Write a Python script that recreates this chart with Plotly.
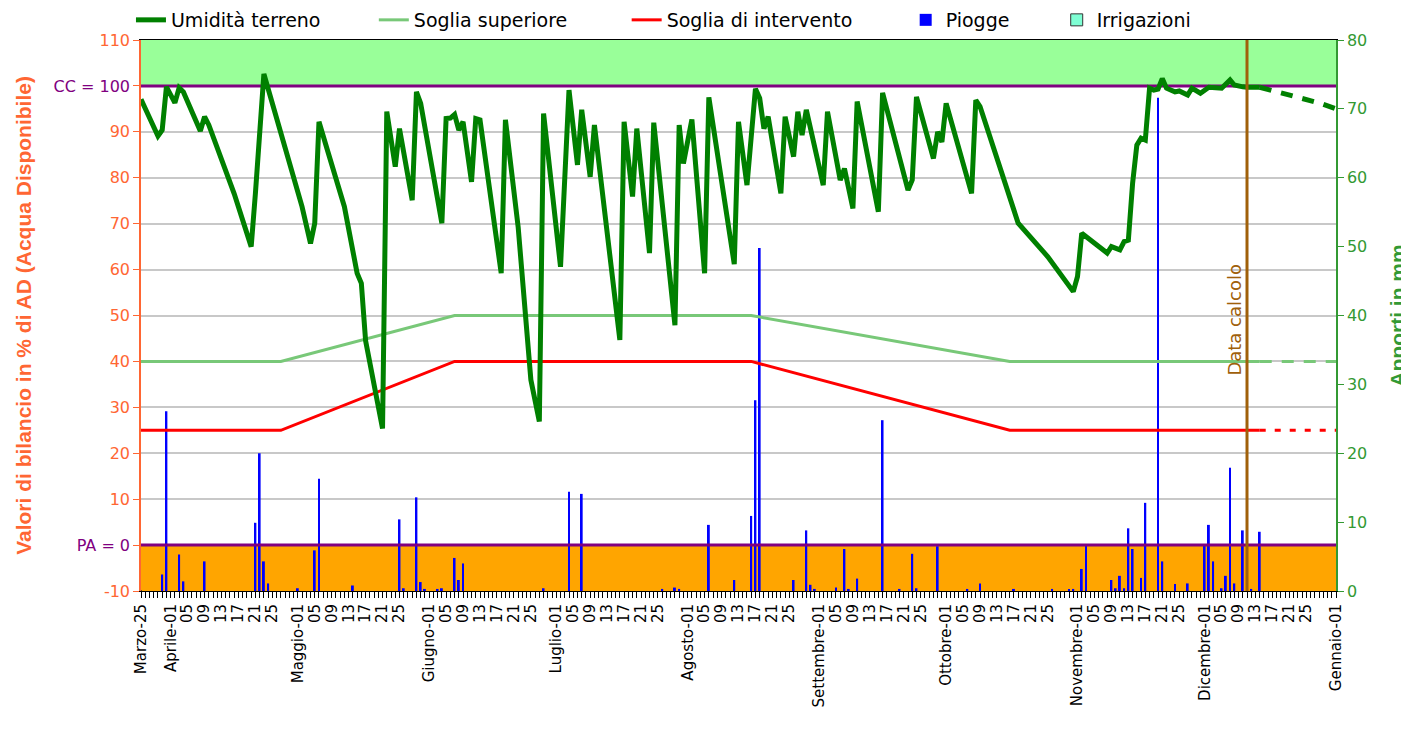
import plotly.graph_objects as go

# ---------------- DATA ----------------
start_date = "2025-03-25"
end_date = "2026-01-01"
calc_date = "2025-12-11"

# Umidità terreno (% AD) - observed part
umid_dates = [
    "2025-03-25", "2025-03-29", "2025-03-30", "2025-03-31", "2025-04-02", "2025-04-03", "2025-04-04",
    "2025-04-08", "2025-04-09", "2025-04-10", "2025-04-16", "2025-04-20", "2025-04-21", "2025-04-23",
    "2025-05-02", "2025-05-04", "2025-05-05", "2025-05-06", "2025-05-08", "2025-05-12", "2025-05-15",
    "2025-05-16", "2025-05-17", "2025-05-21", "2025-05-22", "2025-05-24", "2025-05-25", "2025-05-28",
    "2025-05-29", "2025-05-30", "2025-06-04", "2025-06-05", "2025-06-06", "2025-06-07", "2025-06-08",
    "2025-06-09", "2025-06-11", "2025-06-12", "2025-06-13", "2025-06-18", "2025-06-19", "2025-06-22",
    "2025-06-25", "2025-06-27", "2025-06-28", "2025-07-02", "2025-07-04", "2025-07-06", "2025-07-07",
    "2025-07-09", "2025-07-10", "2025-07-16", "2025-07-17", "2025-07-19", "2025-07-20", "2025-07-23",
    "2025-07-24", "2025-07-29", "2025-07-30", "2025-07-31", "2025-08-02", "2025-08-05", "2025-08-06",
    "2025-08-12", "2025-08-13", "2025-08-15", "2025-08-17", "2025-08-18", "2025-08-19", "2025-08-20",
    "2025-08-23", "2025-08-24", "2025-08-26", "2025-08-27", "2025-08-28", "2025-08-29", "2025-09-02",
    "2025-09-03", "2025-09-06", "2025-09-07", "2025-09-09", "2025-09-10", "2025-09-15", "2025-09-16",
    "2025-09-22", "2025-09-23", "2025-09-24", "2025-09-28", "2025-09-29", "2025-09-30", "2025-10-01",
    "2025-10-07", "2025-10-08", "2025-10-09", "2025-10-18", "2025-10-25", "2025-10-31", "2025-11-01",
    "2025-11-02", "2025-11-08", "2025-11-09", "2025-11-11", "2025-11-12", "2025-11-13", "2025-11-14",
    "2025-11-15", "2025-11-16", "2025-11-17", "2025-11-18", "2025-11-19", "2025-11-20", "2025-11-21",
    "2025-11-22", "2025-11-24", "2025-11-25", "2025-11-27", "2025-11-28", "2025-11-30", "2025-12-02",
    "2025-12-05", "2025-12-07", "2025-12-08", "2025-12-10", "2025-12-11", "2025-12-14",
]
umid_values = [
    97.1, 89.1, 90.4, 99.8, 96.3, 99.6, 98.7,
    90.2, 93.3, 91.5, 76.5, 65.0, 76.6, 102.6,
    73.7, 65.7, 70.1, 92.2, 86.0, 73.7, 59.2,
    57.0, 44.5, 25.4, 94.4, 82.4, 90.7, 75.1,
    98.7, 96.2, 70.1, 92.9, 93.0, 93.8, 90.4,
    92.2, 79.1, 92.9, 92.6, 59.2, 92.6, 69.3,
    36.0, 26.9, 94.0, 60.6, 99.1, 82.8, 94.8,
    80.2, 91.5, 44.7, 92.2, 75.9, 90.7, 63.6,
    92.0, 47.9, 91.5, 83.1, 92.7, 59.2, 97.5,
    61.2, 92.2, 78.4, 99.4, 97.3, 90.7, 93.3,
    76.6, 93.3, 84.6, 94.4, 89.3, 94.8, 78.4,
    94.4, 79.5, 82.0, 73.3, 96.6, 72.6, 98.5,
    77.3, 79.5, 97.6, 84.2, 90.0, 87.8, 96.2,
    76.6, 96.9, 95.5, 70.1, 62.8, 55.2, 58.5,
    67.9, 63.6, 65.0, 64.3, 66.1, 66.4, 78.8,
    87.1, 88.6, 88.2, 99.5, 99.1, 99.3, 101.6,
    99.5, 98.7, 98.9, 98.0, 99.5, 98.4, 99.7,
    99.5, 101.3, 100.2, 99.8, 99.7, 99.7,
]

# Umidità terreno - forecast part (dashed)
umid_fc_dates = ["2025-12-14", "2025-12-16", "2025-12-22", "2025-12-28", "2026-01-01"]
umid_fc_values = [99.7, 99.2, 97.6, 96.3, 95.0]

# Soglie (% AD)
soglia_dates = ["2025-03-25", "2025-04-27", "2025-06-07", "2025-08-16", "2025-10-16", "2025-12-14"]
soglia_sup_values = [40, 40, 50, 50, 40, 40]
soglia_int_values = [25, 25, 40, 40, 25, 25]
soglia_fc_dates = ["2025-12-14", "2026-01-01"]
soglia_sup_fc_values = [40, 40]
soglia_int_fc_values = [25, 25]

# Piogge (mm)
piogge_dates = [
    "2025-03-30", "2025-03-31", "2025-04-03", "2025-04-04", "2025-04-09", "2025-04-21", "2025-04-22",
    "2025-04-23", "2025-04-24", "2025-05-01", "2025-05-05", "2025-05-06", "2025-05-14", "2025-05-25",
    "2025-05-26", "2025-05-29", "2025-05-30", "2025-05-31", "2025-06-03", "2025-06-04", "2025-06-07",
    "2025-06-08", "2025-06-09", "2025-06-28", "2025-07-04", "2025-07-07", "2025-07-26", "2025-07-29",
    "2025-07-30", "2025-08-06", "2025-08-12", "2025-08-16", "2025-08-17", "2025-08-18", "2025-08-26",
    "2025-08-29", "2025-08-30", "2025-08-31", "2025-09-05", "2025-09-07", "2025-09-08", "2025-09-10",
    "2025-09-16", "2025-09-20", "2025-09-23", "2025-09-24", "2025-09-29", "2025-10-06", "2025-10-09",
    "2025-10-17", "2025-10-26", "2025-10-30", "2025-10-31", "2025-11-02", "2025-11-03", "2025-11-09",
    "2025-11-10", "2025-11-11", "2025-11-12", "2025-11-13", "2025-11-14", "2025-11-16", "2025-11-17",
    "2025-11-20", "2025-11-21", "2025-11-24", "2025-11-27", "2025-12-01", "2025-12-02", "2025-12-03",
    "2025-12-05", "2025-12-06", "2025-12-07", "2025-12-08", "2025-12-10", "2025-12-12", "2025-12-14",
]
piogge_mm = [
    2.4, 26.1, 5.3, 1.4, 4.3, 9.9, 20.0,
    4.3, 1.1, 0.4, 5.9, 16.3, 0.8, 10.4,
    0.4, 13.6, 1.3, 0.3, 0.3, 0.4, 4.8,
    1.6, 4.0, 0.4, 14.4, 14.1, 0.3, 0.5,
    0.3, 9.6, 1.6, 10.9, 27.7, 49.8, 1.6,
    8.8, 0.9, 0.3, 0.5, 6.1, 0.3, 1.8,
    24.8, 0.3, 5.4, 0.4, 6.5, 0.3, 1.1,
    0.3, 0.3, 0.3, 0.3, 3.2, 6.6, 1.6,
    0.4, 2.2, 0.4, 9.1, 6.1, 1.9, 12.8,
    71.6, 4.3, 1.0, 1.1, 6.6, 9.6, 4.3,
    0.4, 2.2, 17.9, 1.1, 8.8, 0.3, 8.6,
]

# Irrigazioni (mm) - no irrigation in the period
irrigazioni_dates = ["2025-03-25"]
irrigazioni_mm = [0]

# Axis labels
month_names = ["Aprile", "Maggio", "Giugno", "Luglio", "Agosto", "Settembre",
               "Ottobre", "Novembre", "Dicembre"]
label_days = ["05", "09", "13", "17", "21", "25"]
first_label = "Marzo-25"
last_label = "Gennaio-01"
left_tick_values = [-10, 0, 10, 20, 30, 40, 50, 60, 70, 80, 90, 100, 110]
left_tick_text = ["-10", "<span style='color:#800080'>PA = 0</span>", "10", "20", "30", "40",
                  "50", "60", "70", "80", "90", "<span style='color:#800080'>CC = 100</span>", "110"]
right_tick_values = [0, 10, 20, 30, 40, 50, 60, 70, 80]

# ---------------- BUILD ----------------
tickvals = [start_date]
ticktext = [first_label]
for i, m in enumerate(month_names):
    month_num = 4 + i
    tickvals.append(f"2025-{month_num:02d}-01")
    ticktext.append(f"{m}-01")
    for d in label_days:
        tickvals.append(f"2025-{month_num:02d}-{d}")
        ticktext.append(d)
tickvals.append(end_date)
ticktext.append(last_label)

ORANGE = "#ff6633"
RGREEN = "#339933"
PURPLE = "#800080"
BROWN = "#a0600a"
DAY_MS = 86400000
NB = "\u00a0"

fig = go.Figure()

# Rain bars on the mm axis (primary y, drawn on the right)
fig.add_trace(go.Bar(
    x=piogge_dates, y=piogge_mm, yaxis="y", name="Piogge" + NB * 7,
    marker=dict(color="#0000ff", line=dict(width=0)),
    width=0.45 * DAY_MS, legendrank=4,
))
fig.add_trace(go.Bar(
    x=irrigazioni_dates, y=irrigazioni_mm, yaxis="y", name="Irrigazioni",
    marker=dict(color="#7fffd4", line=dict(color="#333333", width=1)),
    width=0.45 * DAY_MS, legendrank=5,
))

# Reference lines CC and PA
for lvl in [0, 100]:
    fig.add_trace(go.Scatter(
        x=[start_date, end_date], y=[lvl, lvl], yaxis="y2", mode="lines",
        line=dict(color=PURPLE, width=3), showlegend=False, hoverinfo="skip",
    ))

# Forecast (dashed) parts
fig.add_trace(go.Scatter(
    x=soglia_fc_dates, y=soglia_sup_fc_values, yaxis="y2", mode="lines",
    line=dict(color="#78c878", width=3, dash="12px,10px"), showlegend=False, hoverinfo="skip",
))
fig.add_trace(go.Scatter(
    x=soglia_fc_dates, y=soglia_int_fc_values, yaxis="y2", mode="lines",
    line=dict(color="#ff0000", width=3, dash="6px,9px"), showlegend=False, hoverinfo="skip",
))
fig.add_trace(go.Scatter(
    x=umid_fc_dates, y=umid_fc_values, yaxis="y2", mode="lines",
    line=dict(color="#008000", width=5, dash="12px,10px"), showlegend=False, hoverinfo="skip",
))
fig.add_trace(go.Scatter(
    x=soglia_dates, y=soglia_sup_values, yaxis="y2", mode="lines",
    name="Soglia superiore" + NB * 9,
    line=dict(color="#78c878", width=3), legendrank=2,
))
fig.add_trace(go.Scatter(
    x=soglia_dates, y=soglia_int_values, yaxis="y2", mode="lines",
    name="Soglia di intervento" + NB * 8,
    line=dict(color="#ff0000", width=3), legendrank=3,
))
fig.add_trace(go.Scatter(
    x=umid_dates, y=umid_values, yaxis="y2", mode="lines",
    name="Umidità terreno" + NB * 8,
    line=dict(color="#008000", width=5), legendrank=1,
))

# Bands
fig.add_shape(type="rect", xref="paper", x0=0, x1=1, yref="y2", y0=100, y1=110,
              fillcolor="#99ff99", line=dict(width=0), layer="between")
fig.add_shape(type="rect", xref="paper", x0=0, x1=1, yref="y2", y0=-10, y1=0,
              fillcolor="#ffa500", line=dict(width=0), layer="between")
# Data calcolo
fig.add_shape(type="line", xref="x", x0=calc_date, x1=calc_date, yref="paper", y0=0, y1=1,
              line=dict(color=BROWN, width=3), layer="above")
fig.add_annotation(x=calc_date, xref="x", y=49, yref="y2", text="Data calcolo",
                   textangle=-90, showarrow=False, xanchor="right", xshift=0,
                   font=dict(family="DejaVu Sans", size=18, color=BROWN))

fig.update_layout(
    width=1409, height=732,
    margin=dict(l=133, r=81, t=32, b=149, pad=0, autoexpand=False),
    plot_bgcolor="white", paper_bgcolor="white",
    barmode="overlay",
    legend=dict(orientation="h", x=-0.0084, xanchor="left",
                y=1.0363, yanchor="middle", yref="paper",
                font=dict(family="DejaVu Sans", size=19, color="black"),
                bgcolor="rgba(0,0,0,0)", traceorder="normal"),
    xaxis=dict(
        type="date", range=[start_date, end_date],
        tickmode="array", tickvals=tickvals, ticktext=ticktext, tickangle=-90,
        tickfont=dict(family="DejaVu Sans", size=15, color="black"),
        ticks="outside", ticklen=6, tickcolor="black", tickwidth=1,
        minor=dict(ticks="outside", ticklen=6, tickcolor="black", tickwidth=1,
                   tickmode="linear", tick0=start_date, dtick=DAY_MS, showgrid=False),
        showgrid=False, zeroline=False,
        showline=True, linecolor="black", linewidth=1, mirror=True,
    ),
    yaxis=dict(
        side="right", range=[0, 80], tickmode="array", tickvals=right_tick_values,
        tickfont=dict(family="DejaVu Sans", size=16, color=RGREEN),
        ticks="outside", ticklen=6, tickcolor=RGREEN,
        showline=True, linecolor=RGREEN, linewidth=1.5,
        showgrid=False, zeroline=False,
        title=dict(text="Apporti in mm", standoff=24,
                   font=dict(family="Liberation Sans", size=21, color=RGREEN, weight="bold")),
    ),
    yaxis2=dict(
        overlaying="y", side="left", range=[-10, 110],
        tickmode="array", tickvals=left_tick_values, ticktext=left_tick_text,
        tickfont=dict(family="DejaVu Sans", size=16, color=ORANGE),
        ticks="outside", ticklen=6, tickcolor=ORANGE,
        showline=True, linecolor=ORANGE, linewidth=1.5,
        showgrid=True, gridcolor="#c8c8c8", gridwidth=1.5, zeroline=False,
        title=dict(text="Valori di bilancio in % di AD (Acqua Disponibile)", standoff=16,
                   font=dict(family="Liberation Sans", size=21, color=ORANGE, weight="bold")),
    ),
)

fig.write_html("out.html")
